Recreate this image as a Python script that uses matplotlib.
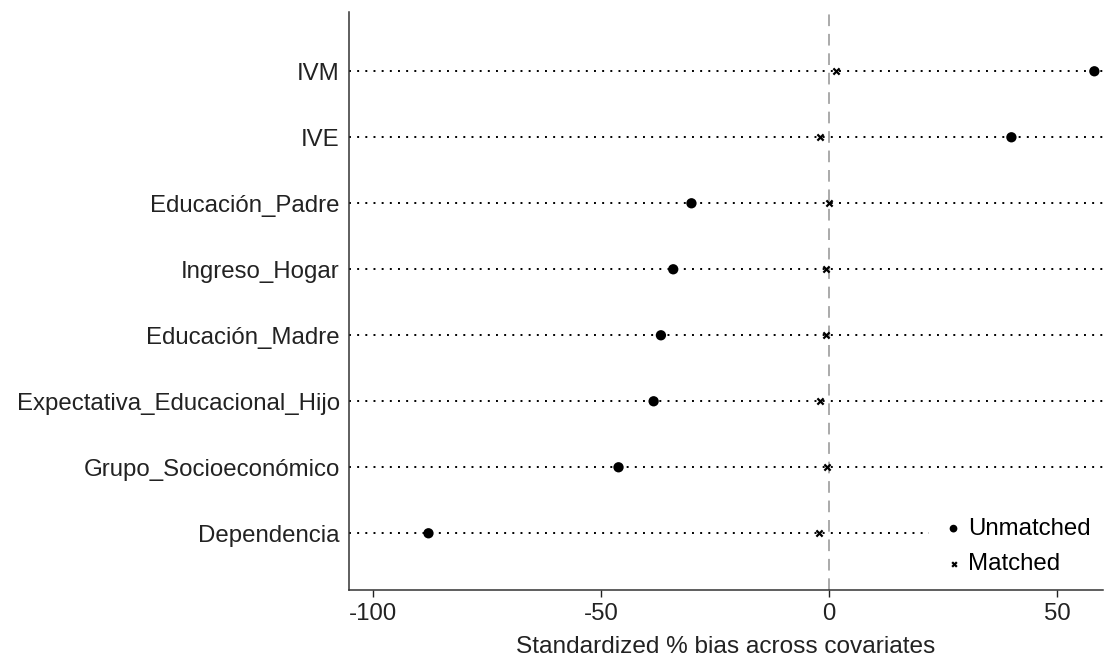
import matplotlib.pyplot as plt
import numpy as np

plt.rcParams['font.family'] = ['Liberation Sans', 'DejaVu Sans']
plt.rcParams['axes.unicode_minus'] = False

# covariates listed top to bottom
covariates = ["IVM", "IVE", "Educación_Padre", "Ingreso_Hogar", "Educación_Madre",
              "Expectativa_Educacional_Hijo", "Grupo_Socioeconómico", "Dependencia"]
unmatched = [58.2, 40.0, -30.2, -34.2, -36.9, -38.5, -46.2, -87.9]
matched = [1.5, -2.0, 0.0, -0.6, -0.6, -2.1, -0.4, -2.3]
xticks = [-100, -50, 0, 50]

fig = plt.figure(figsize=(11.07, 6.60), dpi=100)
ax = fig.add_axes([0.315, 0.106, 0.681, 0.876])

ypos = np.arange(len(covariates), 0, -1)

# dotted guide lines across the whole panel
for y in ypos:
    ax.axhline(y, color='black', linestyle=(0, (1, 3.2)), linewidth=1.4, zorder=1)

ax.axvline(0, color='#aaaaaa', linestyle=(0, (6, 4)), linewidth=1.4, zorder=1)

ax.scatter(unmatched, ypos, marker='o', s=55, color='black', zorder=3,
           label='Unmatched', edgecolors='none')
ax.scatter(matched, ypos, marker='x', s=20, color='black', linewidths=1.6,
           zorder=3, label='Matched')

ax.set_xlim(-105.4, 60.0)
ax.set_ylim(0.14, 8.9)
ax.set_xticks(xticks)
ax.set_yticks(ypos)
ax.set_yticklabels(covariates)
ax.tick_params(axis='y', length=0, pad=6.5, labelsize=17.3, colors='#222222')
ax.tick_params(axis='x', length=5, width=1, pad=4, labelsize=17.3, colors='#222222')
ax.set_xlabel("Standardized % bias across covariates", fontsize=17.6, labelpad=8,
              color='#222222')

for side in ['top', 'right']:
    ax.spines[side].set_visible(False)
for side in ['left', 'bottom']:
    ax.spines[side].set_linewidth(1.1)
    ax.spines[side].set_color('#333333')

leg = ax.legend(loc='lower right', frameon=True, fontsize=17.3, handletextpad=0.1,
                handlelength=1.0, borderaxespad=0.0, borderpad=0.5,
                labelspacing=0.55, markerscale=0.75, fancybox=False,
                bbox_to_anchor=(1.0, 0.005))
leg.get_frame().set_edgecolor('none')
leg.get_frame().set_facecolor('white')
leg.get_frame().set_alpha(1)

fig.savefig("out.png", dpi=100)
